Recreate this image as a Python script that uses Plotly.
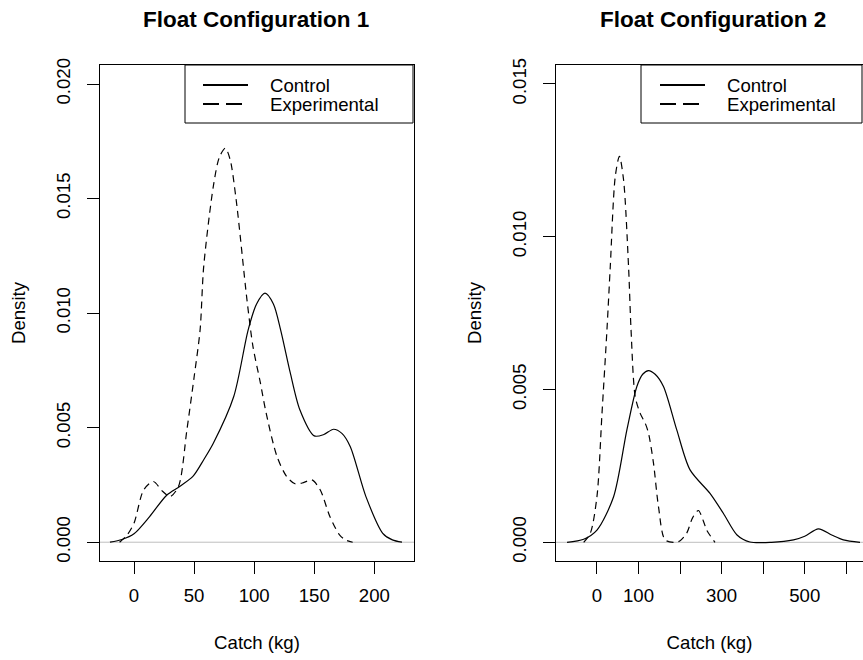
import plotly.graph_objects as go

# ---- data ----
ctrl1_x = [-20, -10, 0, 13, 27, 38, 49, 58, 66, 83, 95, 102, 109, 116, 122, 130, 138, 150, 158, 166, 173, 180, 193, 207, 215, 223]
ctrl1_y = [0, 0.00012, 0.00037, 0.00112, 0.00204, 0.00243, 0.00287, 0.0036, 0.00432, 0.00636, 0.00927, 0.0104, 0.01087, 0.0104,
           0.00927, 0.0074, 0.00578, 0.00464, 0.0047, 0.00493, 0.00475, 0.00417, 0.00199, 0.00039, 0.0001, 0]

exp1_x = [-12, -6, 0, 8, 16, 24, 30, 37, 44, 50, 55, 58, 66, 71, 76, 80, 85, 94, 99, 105, 110, 119, 127, 134, 141, 148, 155, 163, 171, 176, 182]
exp1_y = [0, 0.0003, 0.00083, 0.00228, 0.00265, 0.00221, 0.00199, 0.00243, 0.0049, 0.0072, 0.00927, 0.01204, 0.01553, 0.0168,
          0.0172, 0.0167, 0.01495, 0.01058, 0.00854, 0.007, 0.00563, 0.00374, 0.00287, 0.00255, 0.0026, 0.00272, 0.00228,
          0.00112, 0.00032, 0.0001, 0]

ctrl2_x = [-72, -32, 0, 40, 72, 96, 110, 124, 140, 160, 192, 224, 272, 304, 337, 368, 420, 473, 500, 533, 565, 593, 633]
ctrl2_y = [0, 0.0001, 0.0004, 0.00149, 0.00368, 0.0051, 0.0055, 0.00562, 0.0055, 0.0051, 0.00368, 0.00237, 0.0016, 0.00095,
           0.00024, 0.00001, 0, 0.00008, 0.0002, 0.00044, 0.00024, 0.00008, 0]

exp2_x = [-32, -16, 0, 12, 24, 32, 44, 54, 64, 76, 82, 92, 104, 116, 124, 136, 148, 164, 188, 200, 216, 230, 244, 256, 264, 284]
exp2_y = [0, 0.0003, 0.0015, 0.0042, 0.00695, 0.00902, 0.01197, 0.01263, 0.01186, 0.00902, 0.00695, 0.00477, 0.00422, 0.0039,
          0.00357, 0.00259, 0.00117, 0.00008, 0, 0.00005, 0.0003, 0.0008, 0.00104, 0.0007, 0.0004, 0]

titles = ["Float Configuration 1", "Float Configuration 2"]
series_names = ["Control", "Experimental"]
x1_ticks = [0, 50, 100, 150, 200]
x1_labels = ["0", "50", "100", "150", "200"]
x2_ticks = [0, 100, 200, 300, 400, 500, 600]
x2_labels = ["0", "100", "", "300", "", "500", ""]
y1_ticks = [0, 0.005, 0.010, 0.015, 0.020]
y1_labels = ["0.000", "0.005", "0.010", "0.015", "0.020"]
y2_ticks = [0, 0.005, 0.010, 0.015]
y2_labels = ["0.000", "0.005", "0.010", "0.015"]

FONT = "Liberation Sans, Arial, Helvetica, sans-serif"
FS = 18.6
DASH = "7px,5px"
W, H = 863, 660

fig = go.Figure()

def add_curve(x, y, dash, xa, ya, name):
    fig.add_trace(go.Scatter(x=x, y=y, mode="lines", xaxis=xa, yaxis=ya, name=name,
                             line=dict(color="black", width=1.2, dash=dash, shape="spline", smoothing=0.8),
                             showlegend=False, hoverinfo="skip"))

add_curve(ctrl1_x, ctrl1_y, "solid", "x", "y", series_names[0])
add_curve(exp1_x, exp1_y, DASH, "x", "y", series_names[1])
add_curve(ctrl2_x, ctrl2_y, "solid", "x2", "y2", series_names[0])
add_curve(exp2_x, exp2_y, DASH, "x2", "y2", series_names[1])

ydom = [1 - 561/H, 1 - 65/H]
axis_common = dict(showline=True, linecolor="black", linewidth=1, ticks="outside", ticklen=12,
                   tickcolor="black", tickwidth=1, showgrid=False, zeroline=False, automargin=False,
                   tickfont=dict(family=FONT, size=FS, color="black"))
xax = dict(ticklabelstandoff=6, title=dict(text="Catch (kg)", standoff=30, font=dict(size=FS)))
yax = dict(ticklabelstandoff=10, tickangle=-90, title=dict(text="Density", standoff=22, font=dict(size=FS)))

fig.update_layout(
    width=W, height=H, margin=dict(l=0, r=0, t=0, b=0, autoexpand=False),
    paper_bgcolor="white", plot_bgcolor="white",
    font=dict(family=FONT, size=FS, color="black"),
    xaxis=dict(domain=[100/W, 414/W], range=[-28.3, 233], tickvals=x1_ticks, ticktext=x1_labels,
               mirror=True, anchor="y", **xax, **axis_common),
    yaxis=dict(domain=ydom, range=[-0.00082, 0.02083], tickvals=y1_ticks, ticktext=y1_labels,
               mirror=True, anchor="x", **yax, **axis_common),
    xaxis2=dict(domain=[556/W, 1.0], range=[-98.6, 640.2], tickvals=x2_ticks, ticktext=x2_labels,
                mirror=True, anchor="y2", **xax, **axis_common),
    yaxis2=dict(domain=ydom, range=[-0.000612, 0.01562], tickvals=y2_ticks, ticktext=y2_labels,
                mirror=False, anchor="x2", **yax, **axis_common),
    showlegend=False,
)

# gray zero reference lines (abline h = 0)
for xa, ya in [("x", "y"), ("x2", "y2")]:
    fig.add_shape(type="line", x0=0, x1=1, xref=f"{xa} domain", y0=0, y1=0, yref=ya,
                  line=dict(color="#bebebe", width=1), layer="below")

# R-style legend boxes
def px(x):
    return x / W

def py(y):
    return 1 - y / H

for (bx0, bx1, lx0, lx1, tx) in [(185, 413, 203, 248, 268), (641, 862, 660, 705, 725)]:
    fig.add_shape(type="rect", xref="paper", yref="paper", x0=px(bx0), x1=px(bx1), y0=py(123), y1=py(65),
                  line=dict(color="black", width=1), fillcolor="white", layer="above")
    for name, dash, yy in zip(series_names, ["solid", "16px,7px"], [85, 104]):
        fig.add_shape(type="line", xref="paper", yref="paper", x0=px(lx0), x1=px(lx1), y0=py(yy), y1=py(yy),
                      line=dict(color="black", width=2, dash=dash), layer="above")
        fig.add_annotation(text=name, x=px(tx), y=py(yy), xref="paper", yref="paper", showarrow=False,
                           xanchor="left", yanchor="middle", font=dict(family=FONT, size=FS))

fig.add_annotation(text="<b>" + titles[0] + "</b>", x=256.3/W, y=1 - 19/H, xref="paper", yref="paper",
                   showarrow=False, xanchor="center", yanchor="middle", font=dict(family=FONT, size=22.5))
fig.add_annotation(text="<b>" + titles[1] + "</b>", x=712.8/W, y=1 - 19/H, xref="paper", yref="paper",
                   showarrow=False, xanchor="center", yanchor="middle", font=dict(family=FONT, size=22.5))

fig.write_html("out.html", config={"displayModeBar": False},
               post_script="document.body.style.margin='0';")
